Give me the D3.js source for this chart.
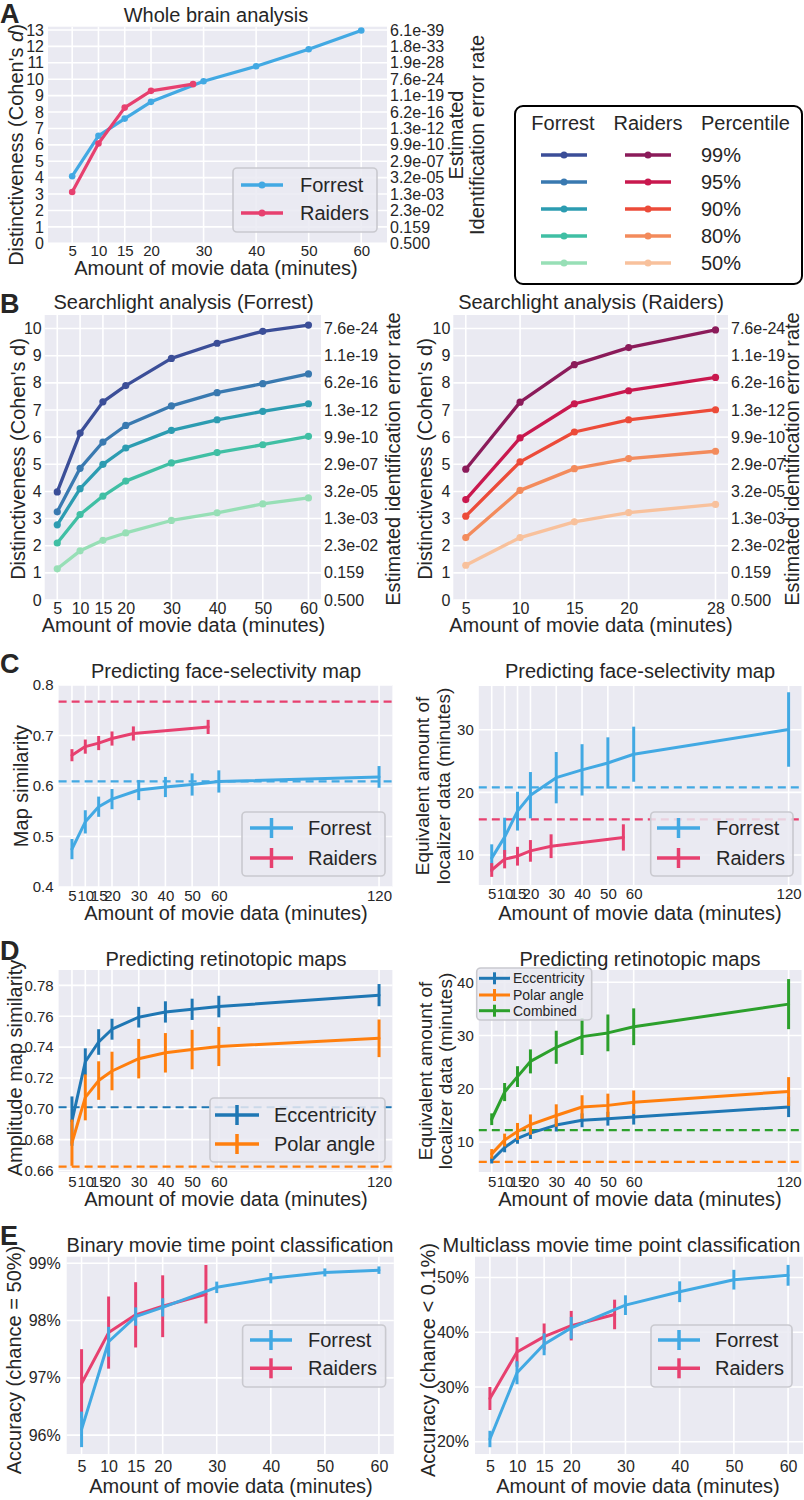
<!DOCTYPE html>
<html><head><meta charset="utf-8">
<script src="https://cdn.jsdelivr.net/npm/d3@7"></script>
<style>
body{margin:0;background:#fff}
svg{display:block}
text{font-family:"Liberation Sans",Arial,Helvetica,sans-serif;fill:#262626}
</style>
</head><body>
<svg id="fig" width="804" height="1500"></svg>
<script>
// ================= DATA =================
// Panel A - whole brain
const minutesForrest = [5, 10, 15, 20, 30, 40, 50, 60];
const minutesRaiders = [5, 10, 15, 20, 28];
const wholeBrainForrest = [4.09, 6.55, 7.6, 8.62, 9.88, 10.79, 11.83, 12.97];
const wholeBrainRaiders = [3.13, 6.08, 8.27, 9.29, 9.7];
const distTicksA = [0, 1, 2, 3, 4, 5, 6, 7, 8, 9, 10, 11, 12, 13];
const distTicksB = [0, 1, 2, 3, 4, 5, 6, 7, 8, 9, 10];
const errorRateLabels = ["0.500", "0.159", "2.3e-02", "1.3e-03", "3.2e-05", "2.9e-07", "9.9e-10", "1.3e-12", "6.2e-16", "1.1e-19", "7.6e-24", "1.9e-28", "1.8e-33", "6.1e-39"];

// Panel B - searchlight percentiles (99, 95, 90, 80, 50)
const percentiles = ["99%", "95%", "90%", "80%", "50%"];
const searchForrest99 = [3.98, 6.15, 7.3, 7.9, 8.9, 9.46, 9.9, 10.13];
const searchForrest95 = [3.25, 4.85, 5.82, 6.43, 7.15, 7.64, 7.97, 8.33];
const searchForrest90 = [2.77, 4.1, 5.0, 5.6, 6.25, 6.64, 6.95, 7.23];
const searchForrest80 = [2.1, 3.15, 3.83, 4.38, 5.05, 5.43, 5.72, 6.03];
const searchForrest50 = [1.15, 1.81, 2.2, 2.47, 2.93, 3.21, 3.54, 3.76];
const searchRaiders99 = [4.82, 7.29, 8.67, 9.3, 9.95];
const searchRaiders95 = [3.7, 5.97, 7.23, 7.71, 8.2];
const searchRaiders90 = [3.09, 5.09, 6.19, 6.64, 7.01];
const searchRaiders80 = [2.3, 4.04, 4.84, 5.21, 5.48];
const searchRaiders50 = [1.28, 2.3, 2.88, 3.22, 3.52];
const colorsForrestPct = ["#3b4e98", "#3979b0", "#2c9cb1", "#40bfa4", "#97dfb6"];
const colorsRaidersPct = ["#8b1b5a", "#c9184e", "#ec4b39", "#f38b5c", "#f8c19c"];

// Panel C - face selectivity
const minutesLong = [5, 10, 15, 20, 30, 40, 50, 60, 120];
const minutesRaidersC = [5, 10, 15, 20, 28, 56];
const faceSimForrest = [0.475, 0.529, 0.559, 0.574, 0.592, 0.598, 0.603, 0.609, 0.618];
const faceSimForrestErr = [0.02, 0.023, 0.02, 0.02, 0.02, 0.02, 0.022, 0.022, 0.0215];
const faceSimRaiders = [0.661, 0.678, 0.685, 0.694, 0.704, 0.717];
const faceSimRaidersErr = [0.012, 0.014, 0.014, 0.014, 0.014, 0.014];
const faceSimRef = [0.609, 0.767]; // Forrest, Raiders
const faceEqForrest = [9.5, 12.85, 17.0, 19.55, 22.35, 23.6, 24.7, 26.1, 30.05];
const faceEqForrestErr = [2.2, 3.1, 3.1, 3.7, 4.1, 4.1, 4.1, 4.4, 5.95];
const faceEqRaiders = [7.6, 9.33, 9.8, 10.65, 11.4, 12.8];
const faceEqRaidersErr = [1.1, 1.47, 1.5, 1.73, 1.9, 2.1];
const faceEqRef = [20.8, 15.7]; // Forrest, Raiders

// Panel D - retinotopy
const retSimEcc = [0.692, 0.7305, 0.7433, 0.7516, 0.7594, 0.7628, 0.7645, 0.7663, 0.7737];
const retSimEccErr = [0.016, 0.0087, 0.0083, 0.0068, 0.0067, 0.0069, 0.0069, 0.007, 0.0072];
const retSimPolar = [0.678, 0.7074, 0.7183, 0.7245, 0.7325, 0.7363, 0.7384, 0.7404, 0.7457];
const retSimPolarErr = [0.015, 0.0149, 0.0125, 0.0125, 0.0128, 0.0128, 0.0128, 0.0127, 0.0122];
const retSimRef = [0.701, 0.6625]; // Eccentricity, Polar angle
const retEqEcc = [6.6, 9.0, 10.7, 11.7, 13.2, 14.1, 14.4, 14.7, 16.6];
const retEqEccErr = [0.6, 0.9, 1.0, 1.1, 1.2, 1.3, 1.3, 1.4, 1.9];
const retEqPolar = [7.8, 10.4, 12.0, 13.3, 15.0, 16.6, 16.9, 17.5, 19.5];
const retEqPolarErr = [0.9, 1.2, 1.6, 1.9, 2.1, 2.2, 2.2, 2.2, 2.7];
const retEqComb = [14.3, 19.4, 22.3, 25.15, 27.8, 29.8, 30.5, 31.65, 35.9];
const retEqCombErr = [1.1, 1.7, 1.95, 2.25, 3.1, 3.45, 3.45, 3.45, 4.7];
const retEqRef = [12.25, 6.3]; // Combined, Polar angle

// Panel E - time point classification (%)
const binaryForrest = [96.1, 97.63, 98.07, 98.23, 98.58, 98.74, 98.84, 98.88];
const binaryForrestErr = [0.31, 0.26, 0.16, 0.16, 0.1, 0.09, 0.07, 0.065];
const binaryRaiders = [96.9, 97.79, 98.1, 98.25, 98.46];
const binaryRaidersErr = [0.6, 0.63, 0.57, 0.54, 0.51];
const multiForrest = [20.5, 32.6, 37.8, 40.8, 44.95, 47.4, 49.6, 50.4];
const multiForrestErr = [1.5, 2.1, 2.0, 2.0, 1.8, 1.9, 1.8, 1.9];
const multiRaiders = [27.9, 36.4, 39.2, 41.2, 43.25];
const multiRaidersErr = [2.1, 2.7, 2.4, 2.7, 2.7];

// tick values
const xTicksShort = [5, 10, 15, 20, 30, 40, 50, 60];
const xTicksRaidersB = [5, 10, 15, 20, 28];
const yTicksFaceSim = [0.4, 0.5, 0.6, 0.7, 0.8];
const yTicksFaceEq = [10, 20, 30];
const yTicksRetSim = [0.66, 0.68, 0.70, 0.72, 0.74, 0.76, 0.78];
const yTicksRetEq = [10, 20, 30, 40];
const yTicksBinary = [96, 97, 98, 99];
const yTicksMulti = [20, 30, 40, 50];

// colours
const C_FORREST = "#42a9e3", C_RAIDERS = "#e7406f";
const C_ECC = "#1f77b4", C_POLAR = "#ff7f0e", C_COMB = "#2ca02c";
const BG = "#eaeaf2", TXT = "#262626";
const FONT = '"Liberation Sans", Arial, Helvetica, sans-serif';

// ================= HELPERS =================
const svg = d3.select("#fig");
svg.append("rect").attr("width", 804).attr("height", 1500).attr("fill", "#fff");

function styleAxis(sel, fs) {
  sel.select(".domain").remove();
  sel.attr("font-family", FONT).attr("font-size", fs);
  sel.selectAll("text").attr("fill", TXT);
}

function drawAxes(o) {
  const g = svg.append("g");
  const [xl, xr] = o.x.range(), [yb, yt] = o.y.range();
  g.append("rect").attr("x", xl).attr("y", yt).attr("width", xr - xl).attr("height", yb - yt).attr("fill", BG);
  g.selectAll(null).data(o.xTicks).join("line")
    .attr("x1", d => o.x(d)).attr("x2", d => o.x(d)).attr("y1", yt).attr("y2", yb)
    .attr("stroke", "#fff").attr("stroke-width", 1.6);
  g.selectAll(null).data(o.yTicks).join("line")
    .attr("y1", d => o.y(d)).attr("y2", d => o.y(d)).attr("x1", xl).attr("x2", xr)
    .attr("stroke", "#fff").attr("stroke-width", 1.6);
  g.append("g").attr("transform", `translate(0,${yb})`)
    .call(d3.axisBottom(o.x).tickValues(o.xTicks).tickSize(0).tickPadding(o.xPad).tickFormat(o.xFmt || d3.format("d")))
    .call(styleAxis, o.xfs || o.fs);
  g.append("g").attr("transform", `translate(${xl},0)`)
    .call(d3.axisLeft(o.y).tickValues(o.yTicks).tickSize(0).tickPadding(o.yPad || 4).tickFormat(o.yFmt || d3.format("d")))
    .call(styleAxis, o.fs);
  if (o.rightLabels) {
    g.append("g").attr("transform", `translate(${xr},0)`)
      .call(d3.axisRight(o.y).tickValues(o.yTicks).tickSize(0).tickPadding(3).tickFormat((d, i) => o.rightLabels[i]))
      .call(styleAxis, o.fs);
  }
  return g;
}

function series(g, x, y, xs, ys, color, opt = {}) {
  const line = d3.line().x((d, i) => x(xs[i])).y(d => y(d));
  g.append("path").datum(ys).attr("d", line).attr("fill", "none")
    .attr("stroke", color).attr("stroke-width", opt.lw || 3)
    .attr("stroke-linejoin", "round").attr("stroke-linecap", "round");
  if (opt.marker) {
    g.selectAll(null).data(ys).join("circle")
      .attr("cx", (d, i) => x(xs[i])).attr("cy", d => y(d)).attr("r", opt.marker).attr("fill", color);
  }
  if (opt.err) {
    g.selectAll(null).data(ys).join("line")
      .attr("x1", (d, i) => x(xs[i])).attr("x2", (d, i) => x(xs[i]))
      .attr("y1", (d, i) => y(d - opt.err[i])).attr("y2", (d, i) => y(d + opt.err[i]))
      .attr("stroke", color).attr("stroke-width", opt.elw || 3);
  }
}

function hDash(g, x, y, v, color) {
  const [xl, xr] = x.range();
  g.append("line").attr("x1", xl).attr("x2", xr).attr("y1", y(v)).attr("y2", y(v))
    .attr("stroke", color).attr("stroke-width", 2.2).attr("stroke-dasharray", "8,5");
}

function txt(x, y, s, fs, anchor = "middle", weight = "normal") {
  return svg.append("text").attr("x", x).attr("y", y).attr("font-size", fs)
    .attr("text-anchor", anchor).attr("font-weight", weight).attr("fill", weight === "bold" ? "#000" : TXT).text(s);
}
function rot(x, yc, s, fs) {
  return svg.append("text").attr("transform", `translate(${x},${yc}) rotate(-90)`)
    .attr("font-size", fs).attr("text-anchor", "middle").attr("dy", "0.35em").attr("fill", TXT).text(s);
}

function legendBox(x0, y0, x1, y1) {
  svg.append("rect").attr("x", x0).attr("y", y0).attr("width", x1 - x0).attr("height", y1 - y0)
    .attr("rx", 4).attr("fill", BG).attr("fill-opacity", 0.85).attr("stroke", "#c9c9cf").attr("stroke-width", 1.6);
}
function legendEntry(lx0, lx1, y, tx, label, color, kind, fs, tick) {
  svg.append("line").attr("x1", lx0).attr("x2", lx1).attr("y1", y).attr("y2", y)
    .attr("stroke", color).attr("stroke-width", kind === "small" ? 3 : 3.5);
  const cx = (lx0 + lx1) / 2;
  if (kind === "marker") {
    svg.append("circle").attr("cx", cx).attr("cy", y).attr("r", 3.5).attr("fill", color);
  } else {
    svg.append("line").attr("x1", cx).attr("x2", cx).attr("y1", y - tick).attr("y2", y + tick)
      .attr("stroke", color).attr("stroke-width", kind === "small" ? 3 : 3.5);
  }
  if (label) svg.append("text").attr("x", tx).attr("y", y).attr("dy", "0.35em").attr("font-size", fs).attr("fill", TXT).text(label);
}

// ================= PANEL A =================
{
  const x = d3.scaleLinear().domain([0.4, 64.9]).range([48, 387]);
  const y = d3.scaleLinear().domain([0, 13.2]).range([243.3, 26.7]);
  const g = drawAxes({ x, y, xTicks: xTicksShort, yTicks: distTicksA, xPad: 2, yPad: 4, fs: 16, xfs: 15, rightLabels: errorRateLabels });
  series(g, x, y, minutesForrest, wholeBrainForrest, C_FORREST, { lw: 3.2, marker: 3.3 });
  series(g, x, y, minutesRaiders, wholeBrainRaiders, C_RAIDERS, { lw: 3.2, marker: 3.3 });
  txt(216, 22, "Whole brain analysis", 20);
  txt(216, 275, "Amount of movie data (minutes)", 20);
  const yl = svg.append("text").attr("transform", "translate(16,145) rotate(-90)")
    .attr("font-size", 20).attr("text-anchor", "middle").attr("dy", "0.35em").attr("fill", TXT);
  yl.append("tspan").text("Distinctiveness (Cohen's ");
  yl.append("tspan").attr("font-style", "italic").text("d");
  yl.append("tspan").text(")");
  rot(456, 135, "Estimated", 20);
  rot(477, 135, "Identification error rate", 20);
  legendBox(233, 168, 377, 232);
  legendEntry(241, 283, 185, 300, "Forrest", C_FORREST, "marker", 20);
  legendEntry(241, 283, 213, 300, "Raiders", C_RAIDERS, "marker", 20);
  txt(0, 23, "A", 27, "start", "bold");
}

// ================= BIG LEGEND =================
{
  svg.append("rect").attr("x", 515).attr("y", 106).attr("width", 287).attr("height", 178)
    .attr("rx", 8).attr("fill", "#fff").attr("stroke", "#000").attr("stroke-width", 2);
  txt(563, 130, "Forrest", 20);
  txt(648, 130, "Raiders", 20);
  txt(701, 130, "Percentile", 20, "start");
  const rowY = d3.scalePoint().domain(percentiles).range([155, 263]);
  percentiles.forEach((p, i) => {
    legendEntry(541, 587, rowY(p), 0, "", colorsForrestPct[i], "marker", 20);
    legendEntry(625, 671, rowY(p), 0, "", colorsRaidersPct[i], "marker", 20);
    svg.append("text").attr("x", 701).attr("y", rowY(p)).attr("dy", "0.35em").attr("font-size", 20).attr("fill", TXT).text(p);
  });
}

// ================= PANEL B =================
{
  const y = d3.scaleLinear().domain([0, 10.5]).range([600, 315]);
  const xL = d3.scaleLinear().domain([2.25, 62.75]).range([44.7, 321]);
  const gL = drawAxes({ x: xL, y, xTicks: xTicksShort, yTicks: distTicksB, xPad: 2.5, yPad: 3, fs: 16, rightLabels: errorRateLabels.slice(0, 11) });
  const fSeries = [searchForrest99, searchForrest95, searchForrest90, searchForrest80, searchForrest50];
  fSeries.slice().reverse().forEach((s, k) => {
    const i = fSeries.length - 1 - k;
    series(gL, xL, y, minutesForrest, s, colorsForrestPct[i], { lw: 3.3, marker: 3.6 });
  });
  txt(183.5, 309, "Searchlight analysis (Forrest)", 20);
  txt(183.5, 632, "Amount of movie data (minutes)", 20);
  rot(18, 459, "Distinctiveness (Cohen's d)", 20);
  rot(393, 459, "Estimated identification error rate", 20);

  const xR = d3.scaleLinear().domain([3.85, 29.15]).range([453.3, 728]);
  const gR = drawAxes({ x: xR, y, xTicks: xTicksRaidersB, yTicks: distTicksB, xPad: 2.5, yPad: 3, fs: 16, rightLabels: errorRateLabels.slice(0, 11) });
  const rSeries = [searchRaiders99, searchRaiders95, searchRaiders90, searchRaiders80, searchRaiders50];
  rSeries.slice().reverse().forEach((s, k) => {
    const i = rSeries.length - 1 - k;
    series(gR, xR, y, minutesRaiders, s, colorsRaidersPct[i], { lw: 3.3, marker: 3.6 });
  });
  txt(591, 309, "Searchlight analysis (Raiders)", 20);
  txt(591, 632, "Amount of movie data (minutes)", 20);
  rot(425, 459, "Distinctiveness (Cohen's d)", 20);
  rot(792, 459, "Estimated identification error rate", 20);
  txt(0, 313, "B", 27, "start", "bold");
}

// ================= PANEL C =================
{
  const xL = d3.scaleLinear().domain([0, 125]).range([58.6, 392.4]);
  const yL = d3.scaleLinear().domain([0.4, 0.8]).range([887, 685]);
  const gL = drawAxes({ x: xL, y: yL, xTicks: minutesLong, yTicks: yTicksFaceSim, xPad: 3, yPad: 5, fs: 15, yFmt: d3.format(".1f") });
  hDash(gL, xL, yL, faceSimRef[0], C_FORREST);
  hDash(gL, xL, yL, faceSimRef[1], C_RAIDERS);
  series(gL, xL, yL, minutesLong, faceSimForrest, C_FORREST, { err: faceSimForrestErr });
  series(gL, xL, yL, minutesRaidersC, faceSimRaiders, C_RAIDERS, { err: faceSimRaidersErr });
  txt(226, 678, "Predicting face-selectivity map", 20);
  txt(226, 920, "Amount of movie data (minutes)", 20);
  rot(21, 786, "Map similarity", 20);
  legendBox(242, 812, 385, 876);
  legendEntry(250, 293, 828, 308, "Forrest", C_FORREST, "err", 20, 10);
  legendEntry(250, 293, 858, 308, "Raiders", C_RAIDERS, "err", 20, 10);

  const xR = d3.scaleLinear().domain([0, 125]).range([478.8, 801.5]);
  const yR = d3.scaleLinear().domain([5.2, 37]).range([885, 686]);
  const gR = drawAxes({ x: xR, y: yR, xTicks: minutesLong, yTicks: yTicksFaceEq, xPad: 3, yPad: 5, fs: 15 });
  hDash(gR, xR, yR, faceEqRef[0], C_FORREST);
  hDash(gR, xR, yR, faceEqRef[1], C_RAIDERS);
  series(gR, xR, yR, minutesLong, faceEqForrest, C_FORREST, { err: faceEqForrestErr });
  series(gR, xR, yR, minutesRaidersC, faceEqRaiders, C_RAIDERS, { err: faceEqRaidersErr });
  txt(640, 678, "Predicting face-selectivity map", 20);
  txt(640, 920, "Amount of movie data (minutes)", 20);
  rot(422, 786, "Equivalent amount of", 19);
  rot(443, 786, "localizer data (minutes)", 19);
  legendBox(650.7, 812, 793, 876);
  legendEntry(657, 700, 828, 716, "Forrest", C_FORREST, "err", 20, 10);
  legendEntry(657, 700, 858, 716, "Raiders", C_RAIDERS, "err", 20, 10);
  txt(0, 673, "C", 27, "start", "bold");
}

// ================= PANEL D =================
{
  const xL = d3.scaleLinear().domain([0, 125]).range([58.6, 392.4]);
  const yL = d3.scaleLinear().domain([0.659, 0.79]).range([1172, 970]);
  const gL = drawAxes({ x: xL, y: yL, xTicks: minutesLong, yTicks: yTicksRetSim, xPad: 4.5, yPad: 5, fs: 15, yFmt: d3.format(".2f") });
  hDash(gL, xL, yL, retSimRef[0], C_ECC);
  hDash(gL, xL, yL, retSimRef[1], C_POLAR);
  series(gL, xL, yL, minutesLong, retSimEcc, C_ECC, { err: retSimEccErr });
  series(gL, xL, yL, minutesLong, retSimPolar, C_POLAR, { err: retSimPolarErr });
  txt(226, 966, "Predicting retinotopic maps", 20);
  txt(226, 1206, "Amount of movie data (minutes)", 20);
  rot(15, 1068, "Amplitude map similarity", 20);
  legendBox(210, 1098, 385, 1162);
  legendEntry(215, 259, 1115, 274, "Eccentricity", C_ECC, "err", 20, 10);
  legendEntry(215, 259, 1144, 274, "Polar angle", C_POLAR, "err", 20, 10);

  const xR = d3.scaleLinear().domain([0, 125]).range([478.8, 801.5]);
  const yR = d3.scaleLinear().domain([4.4, 42.3]).range([1172, 970]);
  const gR = drawAxes({ x: xR, y: yR, xTicks: minutesLong, yTicks: yTicksRetEq, xPad: 4.5, yPad: 5, fs: 15 });
  hDash(gR, xR, yR, retEqRef[0], C_COMB);
  hDash(gR, xR, yR, retEqRef[1], C_POLAR);
  series(gR, xR, yR, minutesLong, retEqEcc, C_ECC, { err: retEqEccErr });
  series(gR, xR, yR, minutesLong, retEqPolar, C_POLAR, { err: retEqPolarErr });
  series(gR, xR, yR, minutesLong, retEqComb, C_COMB, { err: retEqCombErr });
  txt(640, 966, "Predicting retinotopic maps", 20);
  txt(640, 1206, "Amount of movie data (minutes)", 20);
  rot(425, 1071, "Equivalent amount of", 19);
  rot(445, 1071, "localizer data (minutes)", 19);
  legendBox(476.7, 968, 591.7, 1020);
  legendEntry(479, 510, 978.3, 513, "Eccentricity", C_ECC, "small", 14, 6);
  legendEntry(479, 510, 995, 513, "Polar angle", C_POLAR, "small", 14, 6);
  legendEntry(479, 510, 1010.7, 513, "Combined", C_COMB, "small", 14, 6);
  txt(0, 960, "D", 27, "start", "bold");
}

// ================= PANEL E =================
{
  const pct = d => d + "%";
  const xL = d3.scaleLinear().domain([2.25, 62.75]).range([66.7, 393.8]);
  const yL = d3.scaleLinear().domain([95.67, 99.115]).range([1454, 1256.7]);
  const gL = drawAxes({ x: xL, y: yL, xTicks: xTicksShort, yTicks: yTicksBinary, xPad: 7, yPad: 6, fs: 16, yFmt: pct });
  series(gL, xL, yL, minutesRaiders, binaryRaiders, C_RAIDERS, { err: binaryRaidersErr });
  series(gL, xL, yL, minutesForrest, binaryForrest, C_FORREST, { err: binaryForrestErr });
  txt(230, 1252, "Binary movie time point classification", 20);
  txt(231, 1493, "Amount of movie data (minutes)", 20);
  rot(14, 1360, "Accuracy (chance = 50%)", 20);
  legendBox(242.6, 1325, 385.6, 1387);
  legendEntry(250, 292, 1340, 308, "Forrest", C_FORREST, "err", 20, 10);
  legendEntry(250, 292, 1368.3, 308, "Raiders", C_RAIDERS, "err", 20, 10);

  const xR = d3.scaleLinear().domain([2.25, 62.75]).range([475, 803]);
  const yR = d3.scaleLinear().domain([17.76, 53.8]).range([1454, 1256.7]);
  const gR = drawAxes({ x: xR, y: yR, xTicks: xTicksShort, yTicks: yTicksMulti, xPad: 7, yPad: 6, fs: 16, yFmt: pct });
  series(gR, xR, yR, minutesRaiders, multiRaiders, C_RAIDERS, { err: multiRaidersErr });
  series(gR, xR, yR, minutesForrest, multiForrest, C_FORREST, { err: multiForrestErr });
  txt(621.5, 1252, "Multiclass movie time point classification", 20);
  txt(638, 1493, "Amount of movie data (minutes)", 20);
  rot(428, 1360, "Accuracy (chance < 0.1%)", 20);
  legendBox(651, 1325, 792, 1387);
  legendEntry(658, 700, 1340, 715, "Forrest", C_FORREST, "err", 20, 10);
  legendEntry(658, 700, 1368.3, 715, "Raiders", C_RAIDERS, "err", 20, 10);
  txt(0, 1245, "E", 27, "start", "bold");
}
</script>
</body></html>
